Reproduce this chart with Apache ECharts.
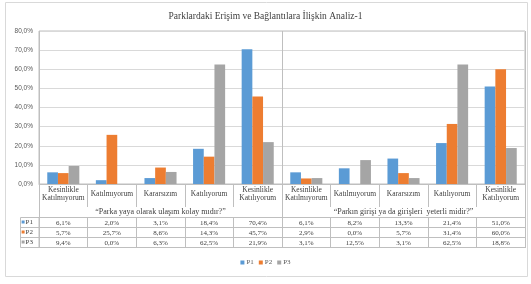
<!DOCTYPE html>
<html>
<head>
<meta charset="utf-8">
<script src="https://cdn.jsdelivr.net/npm/echarts@6/dist/echarts.min.js"></script>
<style>
  html, body { margin: 0; padding: 0; background: #fff; }
  #chart { width: 531px; height: 284px; }
</style>
</head>
<body>
<div id="chart"></div>
<script>
var titleText = 'Parklardaki Erişim ve Bağlantılara İlişkin Analiz-1';
var answers = ['Kesinlikle\nKatılmıyorum', 'Katılmıyorum', 'Kararsızım', 'Katılıyorum', 'Kesinlikle\nKatılıyorum'];
var questions = ['“Parka yaya olarak ulaşım kolay mıdır?”', '“Parkın girişi ya da girişleri  yeterli midir?”'];
var seriesNames = ['P1', 'P2', 'P3'];
var colors = ['#5b9bd5', '#ed7d31', '#a5a5a5'];
// first five values: question 1, last five: question 2
var p1 = [6.1, 2.0, 3.1, 18.4, 70.4, 6.1, 8.2, 13.3, 21.4, 51.0];
var p2 = [5.7, 25.7, 8.6, 14.3, 45.7, 2.9, 0.0, 5.7, 31.4, 60.0];
var p3 = [9.4, 0.0, 6.3, 62.5, 21.9, 3.1, 12.5, 3.1, 62.5, 18.8];
var yTicks = { min: 0, max: 80, step: 10 };

(function() {
  var myChart = echarts.init(document.getElementById('chart'));
  var values = [p1, p2, p3];
  var categories = answers.concat(answers);
  var lineColor = '#bfbfbf';
  var serif = 'Liberation Serif';
  var sans = 'Liberation Sans';

  function pct(v) {
    return v.toFixed(1).replace('.', ',') + '%';
  }

  var xAxes = [
    {
      type: 'category',
      data: categories,
      position: 'bottom',
      axisLine: { lineStyle: { color: lineColor } },
      axisTick: { show: true, interval: 0, length: 23, lineStyle: { color: lineColor } },
      axisLabel: {
        interval: 0, margin: 10, verticalAlign: 'middle',
        fontFamily: serif, fontSize: 7.5, lineHeight: 8, color: '#404040'
      }
    },
    {
      type: 'category',
      data: questions,
      position: 'bottom',
      axisLine: { show: false },
      axisTick: { show: true, interval: 0, length: 64, lineStyle: { color: lineColor } },
      splitLine: { show: true, interval: 0, lineStyle: { color: lineColor } },
      axisLabel: {
        interval: 0, margin: 23.5, fontFamily: serif, fontSize: 8, color: '#404040'
      }
    }
  ];

  values.forEach(function(arr, i) {
    xAxes.push({
      type: 'category',
      data: arr.map(pct),
      position: 'bottom',
      offset: 33.5 + i * 10,
      name: '{sq|}{t|' + seriesNames[i] + '}',
      nameLocation: 'start',
      nameGap: 6,
      nameTextStyle: {
        verticalAlign: 'top',
        padding: [1, 0, 0, 0],
        rich: {
          sq: { width: 3, height: 3, backgroundColor: colors[i] },
          t: { fontFamily: serif, fontSize: 7, color: '#404040', padding: [0, 0, 0, 1] }
        }
      },
      axisLine: { lineStyle: { color: lineColor } },
      axisTick: { show: true, interval: 0, length: 10, lineStyle: { color: lineColor } },
      axisLabel: {
        interval: 0, margin: 2, fontFamily: serif, fontSize: 7, color: '#404040'
      }
    });
  });

  // bottom border of the table
  xAxes.push({
    type: 'category',
    data: categories,
    position: 'bottom',
    offset: 63.5,
    axisLine: { lineStyle: { color: lineColor } },
    axisTick: { show: false },
    axisLabel: { show: false }
  });

  var seriesList = values.map(function(arr, i) {
    return {
      name: seriesNames[i],
      type: 'bar',
      xAxisIndex: 0,
      data: arr,
      barGap: '0%',
      barCategoryGap: '34%',
      itemStyle: { color: colors[i] }
    };
  });

  var option = {
    animation: false,
    title: {
      text: titleText,
      left: 'center',
      top: 6,
      textStyle: { fontFamily: serif, fontSize: 9.5, fontWeight: 'normal', color: '#404040' }
    },
    legend: {
      data: seriesNames,
      bottom: 13,
      left: 'center',
      itemWidth: 4,
      itemHeight: 4,
      itemGap: 5,
      icon: 'rect',
      textStyle: { fontFamily: serif, fontSize: 7, color: '#595959', padding: [0, 0, 0, -3] }
    },
    grid: {
      left: 39, right: 6, top: 31, bottom: 100,
      show: true, borderColor: lineColor, borderWidth: 1
    },
    xAxis: xAxes,
    yAxis: {
      type: 'value',
      min: yTicks.min,
      max: yTicks.max,
      interval: yTicks.step,
      axisLine: { show: false },
      axisTick: { show: false },
      splitLine: { lineStyle: { color: '#d9d9d9' } },
      axisLabel: { margin: 6, fontFamily: sans, fontSize: 6.5, color: '#595959', formatter: pct }
    },
    graphic: [
      {
        type: 'rect',
        shape: { x: 5.5, y: 2.5, width: 522, height: 274 },
        style: { fill: 'none', stroke: '#d9d9d9' },
        silent: true
      },
      {
        type: 'rect',
        shape: { x: 20.5, y: 217.5, width: 18.5, height: 30 },
        style: { fill: 'none', stroke: lineColor },
        silent: true
      },
      {
        type: 'line',
        shape: { x1: 20.5, y1: 227.5, x2: 39, y2: 227.5 },
        style: { stroke: lineColor },
        silent: true
      },
      {
        type: 'line',
        shape: { x1: 20.5, y1: 237.5, x2: 39, y2: 237.5 },
        style: { stroke: lineColor },
        silent: true
      }
    ],
    series: seriesList
  };

  myChart.setOption(option);
})();
</script>
</body>
</html>
